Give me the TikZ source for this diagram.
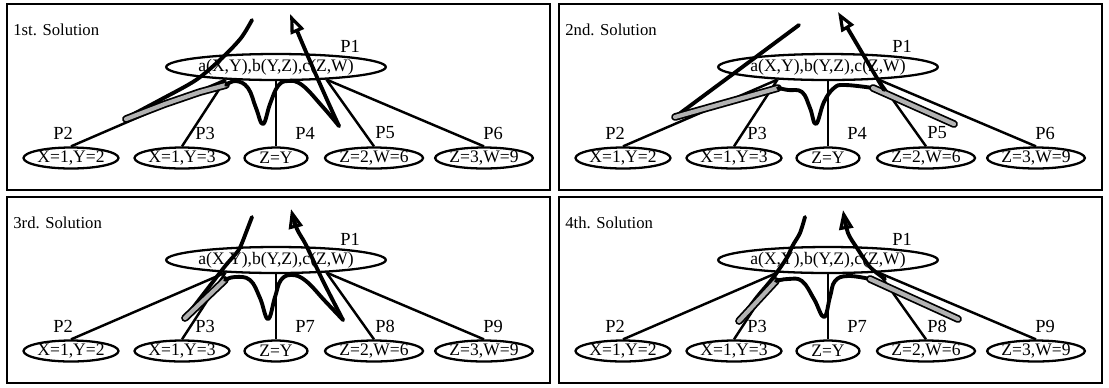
\documentclass[tikz,border=0pt]{standalone}
\usepackage{fontspec}
\setmainfont{Liberation Serif}
\usetikzlibrary{shapes.geometric,arrows.meta}

\begin{document}
\begin{tikzpicture}[x=0.02cm, y=-0.02cm,
      frame/.style={draw, line width=1.4pt},
      title/.style={anchor=west, inner sep=0pt, font=\fontsize{9.5}{11}\selectfont},
      goal/.style={ellipse, draw, line width=1.3pt, minimum width=3.84cm,
                   minimum height=0.52cm, inner sep=0pt, font=\fontsize{10}{12}\selectfont},
      bind/.style={ellipse, draw, line width=1.3pt, minimum height=0.42cm,
                   inner sep=0pt, font=\fontsize{10}{12}\selectfont},
      plabel/.style={inner sep=0pt, font=\fontsize{10.5}{12}\selectfont},
      edge/.style={line width=1.4pt},
      trace/.style={line width=2.2pt, line join=round, line cap=round},
      band/.style={line width=1pt, double=gray!60, double distance=2.4pt, line cap=round},
      headarrow/.style={-{Triangle[open, length=11pt, width=8pt, line width=1.8pt]}}]
    \useasboundingbox (0,0) rectangle (1109,387);
    % the four solution panels
    \foreach \dx/\dy/\ttl/\ld/\le/\lf [count=\i] in
        {0/0/1st/4/5/6, 552/0/2nd/4/5/6, 0/193/3rd/7/8/9, 552/193/4th/7/8/9} {
      \begin{scope}[shift={(\dx,\dy)}]
        \draw[frame] (7,4) rectangle (550,190);
        \node[title] (ttl\i) at (13,30) {\ttl. Solution};
        \node[goal] (root\i) at (276,67) {a(X,Y),b(Y,Z),c(Z,W)};
        \node[plabel] (l1\i) at (350,46) {P1};
        \node[bind, minimum width=1.88cm] (pa\i) at (71,158) {X=1,Y=2};
        \node[bind, minimum width=1.9cm] (pb\i) at (182,158) {X=1,Y=3};
        \node[bind, minimum width=1.26cm] (pc\i) at (276,158) {Z=Y};
        \node[bind, minimum width=1.96cm] (pd\i) at (374,158) {Z=2,W=6};
        \node[bind, minimum width=1.9cm] (pe\i) at (484,158) {Z=3,W=9};
        \node[plabel] (la\i) at (63,133) {P2};
        \node[plabel] (lb\i) at (205,133) {P3};
        \node[plabel] (lc\i) at (305,133) {P\ld};
        \node[plabel] (ld\i) at (385,133) {P\le};
        \node[plabel] (le\i) at (493,133) {P\lf};
        \draw[edge] (root\i.194) -- (pa\i.north);
        \draw[edge] (root\i.194) -- (pb\i.north);
        \draw[edge] (root\i.south) -- (pc\i.north);
        \draw[edge] (root\i.346) -- (pd\i.north);
        \draw[edge] (root\i.346) -- (pe\i.north);
      \end{scope}
    }
    % search traces drawn by hand over the trees
    \draw[trace] plot[smooth] coordinates {(252,20) (241,38) (222,58) (196,80) (160,100) (126,118)};
    \draw[band] (126,119) -- (165,104) -- (200,92) -- (226,85);
    \draw[trace] plot[smooth, tension=0.7] coordinates {(226,85) (236,81) (248,88) (256,108)
      (263,124) (270,104) (278,86) (288,81) (302,85) (322,106) (339,126)};
    \draw[trace, headarrow] (339,126) .. controls (320,85) and (303,45) .. (290,14);
    \begin{scope}[shift={(552,0)}]
      \draw[trace] (247,25) -- (123,117);
      \draw[band] (123,117) -- (226,88);
      \draw[trace] plot[smooth, tension=0.7] coordinates {(226,88) (236,90) (250,92) (258,108)
        (264,124) (272,102) (282,88) (293,85) (321,88)};
      \draw[band] (321,88) -- (402,124);
      \draw[trace, headarrow] (332,90) -- (286,12);
    \end{scope}
    \begin{scope}[shift={(0,193)}]
      \draw[trace] plot[smooth] coordinates {(252,24) (247,37) (242,50) (238,58) (226,72)
        (212,90) (185,125)};
      \draw[band] (185,125) -- (225,87);
      \draw[trace] plot[smooth, tension=0.7] coordinates {(225,87) (235,84) (250,87) (260,105)
        (268,126) (275,104) (281,87) (292,82) (306,88) (325,108) (343,127)};
      \draw[trace, headarrow] plot[smooth] coordinates {(343,127) (323,88) (306,52) (297,36) (291,16)};
    \end{scope}
    \begin{scope}[shift={(552,193)}]
      \draw[trace] plot[smooth] coordinates {(253,24) (248,40) (241,52) (234,66) (220,86)
        (205,104) (187,128)};
      \draw[band] (187,128) -- (224,88);
      \draw[trace] plot[smooth, tension=0.7] coordinates {(224,88) (236,86) (250,88) (262,106)
        (272,124) (278,104) (283,88) (296,83) (318,86)};
      \draw[band] (318,86) -- (406,126);
      \draw[trace, headarrow] plot[smooth] coordinates {(333,86) (318,74) (305,55) (296,40) (291,17)};
    \end{scope}
  \end{tikzpicture}
\end{document}
